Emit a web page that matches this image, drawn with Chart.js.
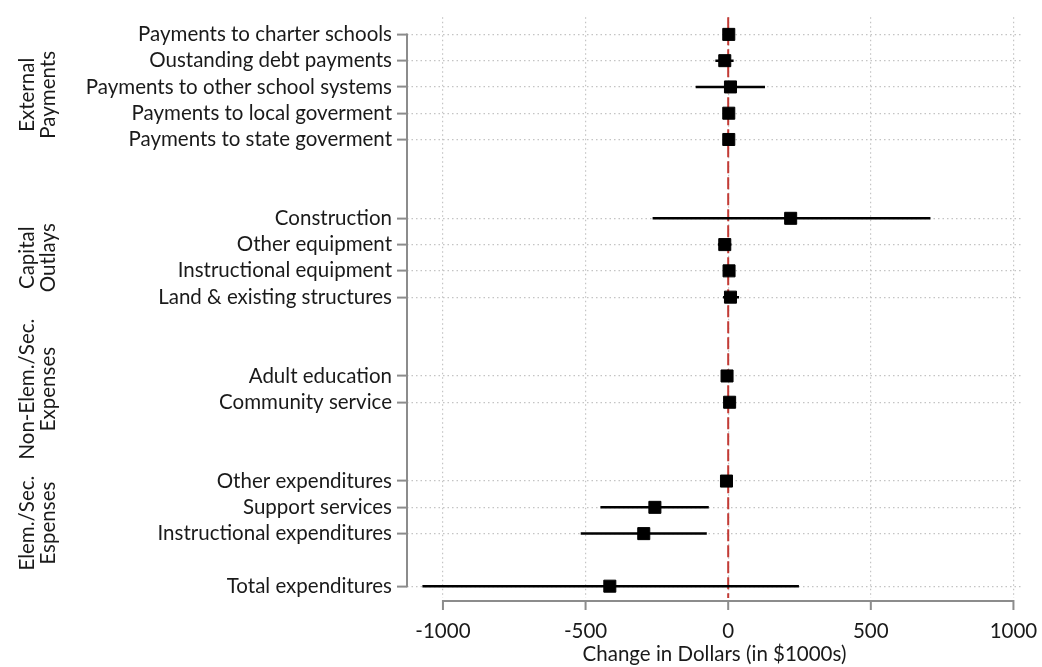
<!DOCTYPE html>
<html>
<head>
<meta charset="utf-8">
<title>Change in expenditures by category</title>
<script src="https://cdn.jsdelivr.net/npm/chart.js@4.4.1/dist/chart.umd.min.js"></script>
<style>
  html, body { margin: 0; padding: 0; background: #fff; }
  #wrap { width: 1042px; height: 667px; position: relative; }
</style>
</head>
<body>
<div id="wrap"><canvas id="coefChart"></canvas></div>
<script>
// Rows, top to bottom
const rowLabels = [
  'Payments to charter schools',
  'Oustanding debt payments',
  'Payments to other school systems',
  'Payments to local goverment',
  'Payments to state goverment',
  'Construction',
  'Other equipment',
  'Instructional equipment',
  'Land & existing structures',
  'Adult education',
  'Community service',
  'Other expenditures',
  'Support services',
  'Instructional expenditures',
  'Total expenditures'
];
// Vertical slot of each row; skipped slots leave the gaps between groups
const rowSlots = [0, 1, 2, 3, 4, 7, 8, 9, 10, 13, 14, 17, 18, 19, 21];

// Point estimates and confidence bounds, in $1000s
const estimates = [2, -12, 8, 2, 2, 219, -12, 3, 8, -4, 5, -6, -257, -296, -415];
const ciLower   = [-6, -45, -114, -5, -6, -265, -36, -5, -18, -12, -4, -14, -448, -517, -1072];
const ciUpper   = [9, 19, 129, 9, 9, 709, 11, 11, 38, 4, 13, 2, -68, -75, 248];

// Group titles on the far left, centred on these slots
const groupLabels = [
  ['External', 'Payments'],
  ['Capital', 'Outlays'],
  ['Non-Elem./Sec.', 'Expenses'],
  ['Elem./Sec.', 'Espenses']
];
const groupSlots = [2.3, 8.5, 13.5, 18.6];

const xTicks = [-1000, -500, 0, 500, 1000];

const FONT = 'Lato, "Open Sans", sans-serif';
const FONT_SIZE = 20.5;
const TEXT = '#1a1a1a';
const AXIS = '#8c8c8c';
const GRID = '#c4c4c4';

// markers first so they sit on top of the whiskers
const pointSet = {
  data: rowSlots.map((slot, i) => ({ x: estimates[i], y: slot })),
  pointStyle: 'rect',
  pointRadius: 8.5,
  pointHoverRadius: 8.5,
  backgroundColor: '#000',
  borderColor: '#000',
  borderWidth: 1
};

// one short horizontal line per row for the interval
const ciSets = rowSlots.map((slot, i) => ({
  data: [{ x: ciLower[i], y: slot }, { x: ciUpper[i], y: slot }],
  showLine: true,
  borderColor: '#000',
  borderWidth: 2.5,
  pointRadius: 0,
  pointHoverRadius: 0
}));

// zero line, axis spines and group titles
const axisDecor = {
  id: 'axisDecor',
  beforeDatasetsDraw(chart) {
    const { ctx, chartArea, scales: { x } } = chart;
    const x0 = x.getPixelForValue(0);
    ctx.save();
    ctx.strokeStyle = '#c23b35';
    ctx.lineWidth = 2;
    ctx.setLineDash([12, 4]);
    ctx.beginPath();
    ctx.moveTo(x0, chartArea.top);
    ctx.lineTo(x0, chartArea.bottom);
    ctx.stroke();
    ctx.restore();
  },
  afterDraw(chart) {
    const { ctx, chartArea, scales: { x, y } } = chart;
    ctx.save();
    ctx.strokeStyle = AXIS;
    ctx.lineWidth = 2;

    // y spine only runs between the first and last rows
    const yTop = y.getPixelForValue(rowSlots[0]);
    const yBot = y.getPixelForValue(rowSlots[rowSlots.length - 1]);
    ctx.beginPath();
    ctx.moveTo(chartArea.left, yTop - 1);
    ctx.lineTo(chartArea.left, yBot + 1);
    ctx.stroke();

    // x spine from first to last tick, sitting just under the plot region
    const ay = chartArea.bottom + 3;
    const xa = x.getPixelForValue(xTicks[0]);
    const xb = x.getPixelForValue(xTicks[xTicks.length - 1]);
    ctx.beginPath();
    ctx.moveTo(xa - 1, ay);
    ctx.lineTo(xb + 1, ay);
    xTicks.forEach(v => {
      const px = x.getPixelForValue(v);
      ctx.moveTo(px, ay);
      ctx.lineTo(px, ay + 9);
    });
    ctx.stroke();

    // rotated group titles
    ctx.font = FONT_SIZE + 'px ' + FONT;
    ctx.fillStyle = TEXT;
    ctx.textAlign = 'center';
    ctx.textBaseline = 'middle';
    groupLabels.forEach((lines, g) => {
      const cy = y.getPixelForValue(groupSlots[g]);
      ctx.save();
      ctx.translate(38, cy);
      ctx.rotate(-Math.PI / 2);
      lines.forEach((t, k) => {
        ctx.fillText(t, 0, (k - (lines.length - 1) / 2) * 21);
      });
      ctx.restore();
    });
    ctx.restore();
  }
};

new Chart(document.getElementById('coefChart'), {
  type: 'scatter',
  data: { datasets: [pointSet].concat(ciSets) },
  options: {
    responsive: true,
    maintainAspectRatio: false,
    animation: false,
    layout: { padding: { top: 10, right: 20, bottom: 0, left: 0 } },
    plugins: {
      legend: { display: false },
      tooltip: { enabled: false }
    },
    scales: {
      x: {
        type: 'linear',
        min: -1126,
        max: 1030,
        afterBuildTicks: s => { s.ticks = xTicks.map(v => ({ value: v })); },
        afterFit: s => {
          s.height = 69;
          // end labels fit inside the margins, no extra room needed
          s.paddingLeft = 0;
          s.paddingRight = 0;
        },
        grid: {
          color: GRID,
          lineWidth: 1.2,
          drawTicks: true,
          tickLength: 8,
          tickColor: 'rgba(0,0,0,0)'
        },
        border: { display: false, dash: [1.5, 3] },
        ticks: {
          color: TEXT,
          font: { family: FONT, size: FONT_SIZE },
          padding: 13,
          maxRotation: 0,
          autoSkip: false,
          callback: v => String(v)
        },
        title: {
          display: true,
          text: 'Change in Dollars (in $1000s)',
          color: TEXT,
          font: { family: FONT, size: FONT_SIZE, lineHeight: 1.2 },
          padding: { top: 0, bottom: 0 }
        }
      },
      y: {
        type: 'linear',
        reverse: true,
        min: -0.65,
        max: 21.45,
        afterBuildTicks: s => { s.ticks = rowSlots.map(v => ({ value: v })); },
        afterFit: s => { s.width = 407; },
        grid: {
          color: GRID,
          lineWidth: 1.2,
          tickLength: 10,
          tickColor: AXIS,
          tickWidth: 2,
          tickBorderDash: []
        },
        border: { display: false, dash: [1.5, 3] },
        ticks: {
          color: TEXT,
          font: { family: FONT, size: FONT_SIZE },
          padding: 5,
          autoSkip: false,
          callback: v => {
            const i = rowSlots.indexOf(v);
            return i >= 0 ? rowLabels[i] : '';
          }
        }
      }
    }
  },
  plugins: [axisDecor]
});
</script>
</body>
</html>
